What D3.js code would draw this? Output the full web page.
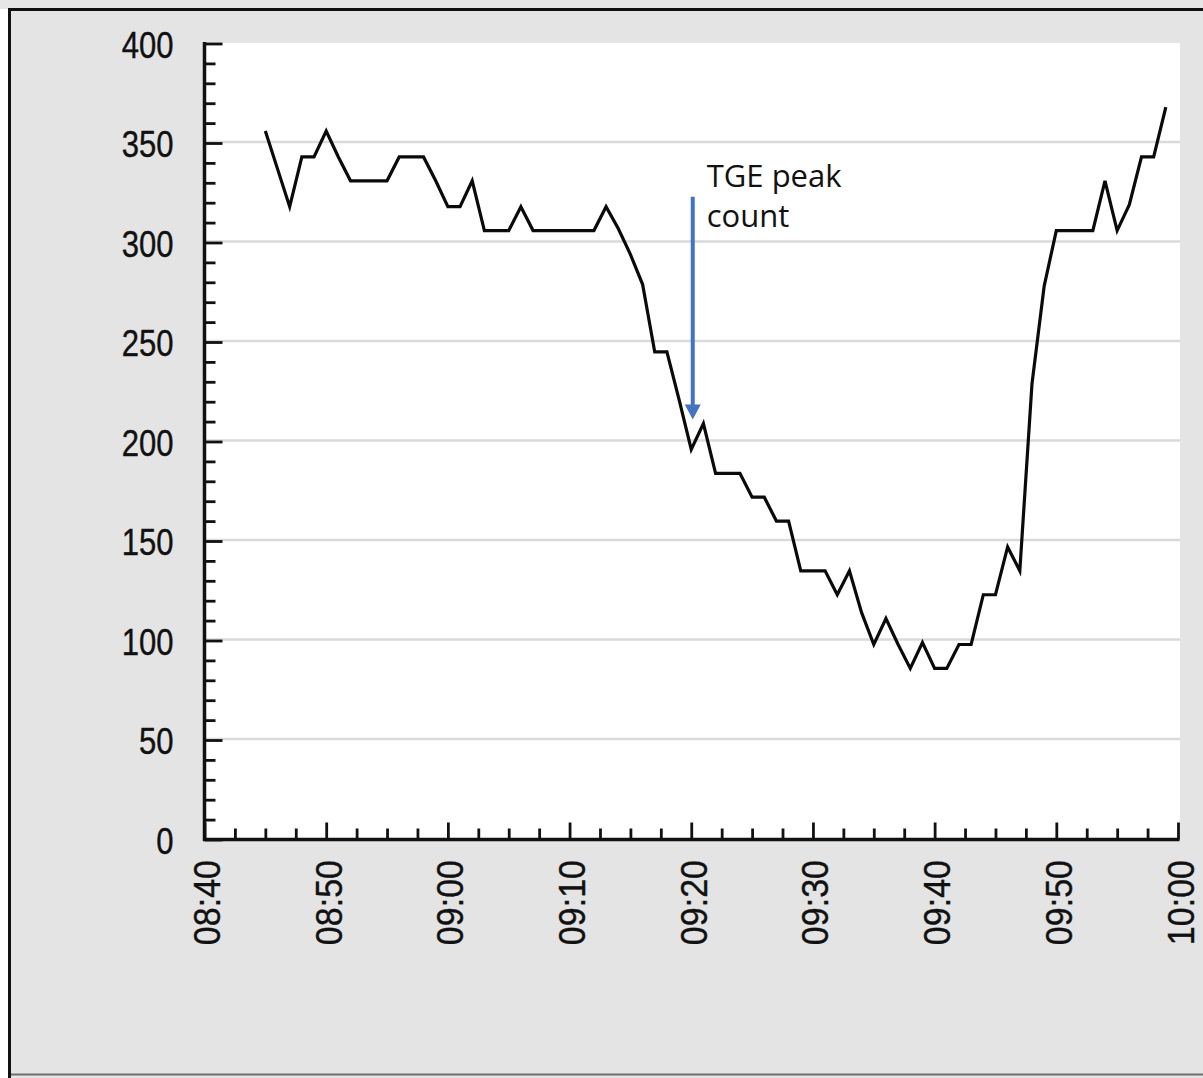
<!DOCTYPE html>
<html>
<head>
<meta charset="utf-8">
<script src="https://cdn.jsdelivr.net/npm/d3@7"></script>
<style>
  html, body { margin: 0; padding: 0; background: #ffffff; }
  svg { display: block; }
</style>
</head>
<body>
<svg id="chart" width="1203" height="1078"></svg>
<script>
// ---------------- data ----------------
const times = [
  "08:45","08:46","08:47","08:48","08:49","08:50","08:51","08:52","08:53","08:54",
  "08:55","08:56","08:57","08:58","08:59","09:00","09:01","09:02","09:03","09:04",
  "09:05","09:06","09:07","09:08","09:09","09:10","09:11","09:12","09:13","09:14",
  "09:15","09:16","09:17","09:18","09:19","09:20","09:21","09:22","09:23","09:24",
  "09:25","09:26","09:27","09:28","09:29","09:30","09:31","09:32","09:33","09:34",
  "09:35","09:36","09:37","09:38","09:39","09:40","09:41","09:42","09:43","09:44",
  "09:45","09:46","09:47","09:48","09:49","09:50","09:51","09:52","09:53","09:54",
  "09:55","09:56","09:57","09:58","09:59"
];
const counts = [
  356, 337, 318, 343, 343, 356, 343, 331, 331, 331,
  331, 343, 343, 343, 331, 318, 318, 331, 306, 306,
  306, 318, 306, 306, 306, 306, 306, 306, 318, 307,
  294, 279, 245, 245, 221, 196, 209, 184, 184, 184,
  172, 172, 160, 160, 135, 135, 135, 123, 135, 114,
  98, 111, 98, 86, 99, 86, 86, 98, 98, 123,
  123, 147, 135, 229, 278, 306, 306, 306, 306, 331,
  306, 319, 343, 343, 368
];
const yMajorTicks = [0, 50, 100, 150, 200, 250, 300, 350, 400];
const yMinorStep = 10;
const xTickLabels = ["08:40","08:50","09:00","09:10","09:20","09:30","09:40","09:50","10:00"];
const xMinorStepMinutes = 2.5;
const annotationTime = "09:20";
const annotationTop = 323;
const annotationTip = 211;
const annotationLines = ["TGE peak", "count"];

// ---------------- helpers ----------------
function toDate(s) {
  const [h, m] = s.split(":").map(Number);
  return new Date(2000, 0, 1, h, m, 0);
}
const data = times.map((t, i) => ({ t: toDate(t), v: counts[i] }));

const svg = d3.select("#chart");
const W = 1203, H = 1078;

// ---------------- background / frame ----------------
svg.append("rect").attr("x", 0).attr("y", 0).attr("width", W).attr("height", H).attr("fill", "#ffffff");
svg.append("rect").attr("x", 0).attr("y", 0).attr("width", W).attr("height", 9).attr("fill", "#e6e6e6");
svg.append("rect").attr("x", 9).attr("y", 9).attr("width", W - 9).attr("height", H - 9).attr("fill", "#e4e4e4");
svg.append("line").attr("x1", 10).attr("x2", W).attr("y1", 1074.5).attr("y2", 1074.5)
  .attr("stroke", "#6e6e6e").attr("stroke-width", 2);
svg.append("line").attr("x1", 9.5).attr("x2", 9.5).attr("y1", 8).attr("y2", H)
  .attr("stroke", "#111").attr("stroke-width", 3);
svg.append("line").attr("x1", 8).attr("x2", W).attr("y1", 9.5).attr("y2", 9.5)
  .attr("stroke", "#111").attr("stroke-width", 3);

// ---------------- scales ----------------
const x = d3.scaleTime()
  .domain([toDate(xTickLabels[0]), toDate(xTickLabels[xTickLabels.length - 1])])
  .range([204.5, 1178]);
const y = d3.scaleLinear().domain([0, 400]).range([839.5, 43.5]);

// plot area
svg.append("rect")
  .attr("x", 205).attr("y", y(400) - 0.5)
  .attr("width", 1180 - 205).attr("height", y(0) - y(400) + 0.5)
  .attr("fill", "#ffffff");

// gridlines
svg.append("g").selectAll("line")
  .data(yMajorTicks.filter(d => d > 0 && d < 400))
  .join("line")
  .attr("x1", 206).attr("x2", 1180)
  .attr("y1", d => y(d) - 1).attr("y2", d => y(d) - 1)
  .attr("stroke", "#dadada").attr("stroke-width", 2.5);

// ---------------- line ----------------
const line = d3.line().x(d => x(d.t)).y(d => y(d.v));
svg.append("path")
  .datum(data)
  .attr("d", line)
  .attr("fill", "none")
  .attr("stroke", "#0a0a0a")
  .attr("stroke-width", 3.2)
  .attr("stroke-linejoin", "miter");

// ---------------- axes ----------------
const yMinor = d3.range(0, 400 + 0.001, yMinorStep).filter(v => v % 50 !== 0);
const gyMinor = svg.append("g").attr("transform", "translate(204.5,0)")
  .call(d3.axisLeft(y).tickValues(yMinor).tickSize(-11).tickFormat(""));
const gyMajor = svg.append("g").attr("transform", "translate(204.5,0)")
  .call(d3.axisLeft(y).tickValues(yMajorTicks).tickSize(-18).tickPadding(31));

const xMajorDates = xTickLabels.map(toDate);
const xMinorDates = [];
for (let k = 0; k < xMajorDates.length - 1; k++) {
  for (let j = 1; j < 10 / xMinorStepMinutes; j++) {
    xMinorDates.push(new Date(+xMajorDates[k] + j * xMinorStepMinutes * 60000));
  }
}
const gxMinor = svg.append("g").attr("transform", "translate(0,839.5)")
  .call(d3.axisBottom(x).tickValues(xMinorDates).tickSize(-11).tickFormat(""));
const gxMajor = svg.append("g").attr("transform", "translate(0,839.5)")
  .call(d3.axisBottom(x).tickValues(xMajorDates).tickSize(-17).tickFormat(d3.timeFormat("%H:%M")));

[gyMinor, gyMajor, gxMinor, gxMajor].forEach(g => {
  g.selectAll(".domain").attr("stroke", "#111").attr("stroke-width", 3.5);
  g.selectAll(".tick line").attr("stroke", "#111").attr("stroke-width", 2.8);
});
gyMinor.select(".domain").remove();
gxMinor.select(".domain").remove();
gyMajor.select(".domain").attr("d", `M0,${y(0) + 1.5}V${y(400) - 1.5}`);
gxMajor.select(".domain").attr("d", `M${x.range()[0] - 1.5},0H${x.range()[1] + 1.5}`);

gyMajor.selectAll(".tick text")
  .attr("x", null).attr("dy", null)
  .attr("transform", "translate(-31,13.5) scale(0.84,1)")
  .attr("font-family", "'Liberation Sans', Arial, sans-serif")
  .attr("font-size", 37)
  .attr("fill", "#111")
  .attr("stroke", "#111").attr("stroke-width", 0.4)
  .attr("text-anchor", "end");

gxMajor.selectAll(".tick text")
  .attr("y", null).attr("dy", null)
  .attr("transform", "translate(15,20.5) rotate(-90) scale(0.92,1)")
  .attr("font-family", "'Liberation Sans', Arial, sans-serif")
  .attr("font-size", 37)
  .attr("fill", "#111")
  .attr("stroke", "#111").attr("stroke-width", 0.4)
  .attr("text-anchor", "end");

// ---------------- annotation ----------------
const ax = x(toDate(annotationTime)) + 1.5;
const aTop = y(annotationTop);
const aTip = y(annotationTip);
svg.append("line")
  .attr("x1", ax).attr("x2", ax)
  .attr("y1", aTop).attr("y2", aTip - 13)
  .attr("stroke", "#4472c4").attr("stroke-width", 4);
svg.append("path")
  .attr("d", `M${ax - 8},${aTip - 15}L${ax + 8},${aTip - 15}L${ax},${aTip}Z`)
  .attr("fill", "#4472c4");
svg.append("text")
  .attr("x", ax + 14).attr("y", aTop - 10)
  .attr("font-family", "'Open Sans', sans-serif")
  .attr("font-size", 31)
  .attr("fill", "#111")
  .selectAll("tspan")
  .data(annotationLines)
  .join("tspan")
  .attr("x", ax + 14)
  .attr("dy", (d, i) => i === 0 ? 0 : 40)
  .text(d => d);
</script>
</body>
</html>
